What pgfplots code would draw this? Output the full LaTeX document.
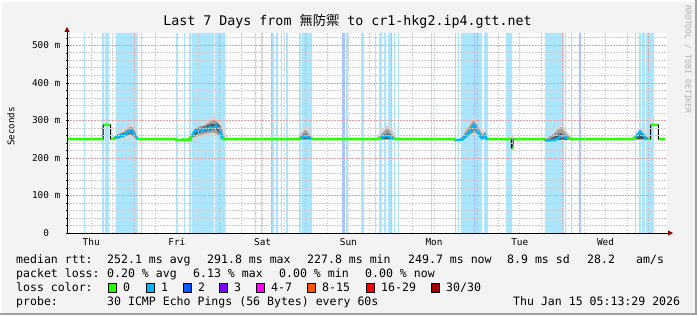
\documentclass[border=0pt]{standalone}
\usepackage{pgfplots}
\pgfplotsset{compat=1.18}
\usepackage{fontspec}
\setmainfont{DejaVu Sans Mono}
\newfontfamily\cjk{Noto Sans CJK TC}
\usetikzlibrary{arrows.meta}
\definecolor{bgc}{HTML}{F3F3F3}
\definecolor{framedark}{HTML}{A0A0A0}
\definecolor{majgrid}{HTML}{E3A0A0}
\definecolor{mingrid}{HTML}{CDCDCD}
\definecolor{arrowred}{HTML}{8B0000}
\definecolor{bandcyan}{HTML}{ABE6FE}
\definecolor{bandblue}{HTML}{ABC4FF}
\definecolor{smokeA}{HTML}{D8D8D8}
\definecolor{smokeB}{HTML}{A0A0A0}
\definecolor{smokeC}{HTML}{505050}
\definecolor{lc0}{HTML}{26FF00}
\definecolor{lc1}{HTML}{00B8FF}
\definecolor{lc2}{HTML}{0059FF}
\definecolor{lc3}{HTML}{7E00FF}
\definecolor{lc4}{HTML}{FF00FF}
\definecolor{lc8}{HTML}{FF5500}
\definecolor{lc16}{HTML}{FF0000}
\definecolor{lc30}{HTML}{A00000}
\newcommand\lf{\fontsize{11.55bp}{14bp}\selectfont}
\begin{document}
\begin{tikzpicture}[x=1bp,y=1bp]
\useasboundingbox (0,0) rectangle (697,315);
\fill[bgc] (0,0) rectangle (697,315);
\fill[white] (0,313) rectangle (697,315);
\fill[white] (0,0) rectangle (2,315);
\fill[framedark] (694.5,0) rectangle (697,315);
\fill[framedark] (0,0) rectangle (697,2.5);
\begin{axis}[
  at={(67bp,82bp)}, anchor=south west,
  scale only axis, width=600bp, height=200bp,
  xmin=0, xmax=168, ymin=0, ymax=533,
  axis lines=left,
  axis line style={line width=0.9bp, black},
  x axis line style={-{Triangle[width=5bp,length=5bp,color=arrowred]}, shorten >=-6bp},
  y axis line style={-{Triangle[width=5bp,length=5bp,color=arrowred]}, shorten >=-6bp},
  axis background/.style={fill=white},
  axis on top,
  xtick={6.775,30.775,54.775,78.775,102.775,126.775,150.775},
  xticklabels={Thu,Fri,Sat,Sun,Mon,Tue,Wed},
  minor xtick={0.775,6.775,12.775,24.775,30.775,36.775,48.775,54.775,60.775,72.775,78.775,84.775,96.775,102.775,108.775,120.775,126.775,132.775,144.775,150.775,156.775},
  extra x ticks={18.775,42.775,66.775,90.775,114.775,138.775,162.775},
  extra x tick labels={},
  extra x tick style={grid=major},
  ytick={0,100,200,300,400,500},
  yticklabels={0\hphantom{mm},100 m,200 m,300 m,400 m,500 m},
  minor ytick={20,40,60,80,120,140,160,180,220,240,260,280,320,340,360,380,420,440,460,480,520},
  ymajorgrids=true, yminorgrids=true, xminorgrids=true, xmajorgrids=false,
  major grid style={draw=majgrid, dash pattern=on 1.5bp off 1.5bp, line width=0.8bp},
  minor grid style={draw=mingrid, dash pattern=on 1.5bp off 1.5bp, line width=0.8bp},
  xtick style={draw=none},
  ytick style={draw=black, line width=0.6bp},
  major tick length=3bp, minor tick length=2bp,
  tick label style={font=\fontsize{9.4bp}{11bp}\selectfont},
  xticklabel style={anchor=north, inner sep=0pt, yshift=-4bp},
  yticklabel style={anchor=east, inner sep=0pt, xshift=-5bp},
  /pgf/number format/assume math mode=true,
  unbounded coords=jump,
]
% loss background bands
\addplot[const plot, fill=bandcyan, draw=none] coordinates {
(0,0)(4.76,533)(5.04,0)(9.80,533)(10.36,0)(10.64,533)(11.76,0)(13.64,533)(19.80,0)
(20.72,533)(21.00,0)(30.52,533)(31.00,0)(32.76,533)(33.04,0)(34.16,533)(34.72,0)
(35.00,533)(41.16,0)(41.44,533)(44.44,0)(52.64,533)(52.92,0)(54.32,533)(54.60,0)
(57.40,533)(57.96,0)(58.52,533)(59.08,0)(59.92,533)(60.20,0)(61.32,533)(61.88,0)
(64.96,533)(65.52,0)(65.80,533)(68.60,0)(78.12,533)(78.68,0)(82.32,533)(83.16,0)
(86.24,533)(86.52,0)(87.36,533)(88.20,0)(88.76,533)(89.32,0)(89.88,533)(91.00,0)
(91.56,533)(91.84,0)(92.68,533)(92.96,0)(101.92,533)(102.20,0)(108.64,533)(108.92,0)
(109.48,533)(109.76,0)(110.32,533)(116.20,0)(116.76,533)(117.88,0)(122.92,533)(124.60,0)
(133.84,533)(139.16,0)(139.44,533)(139.72,0)(141.12,533)(141.40,0)(159.04,533)(159.32,0)
(160.16,533)(160.72,0)(161.00,533)(161.84,0)(162.12,533)(164.36,0)(168,0)} \closedcycle;
\addplot[const plot, fill=bandblue, draw=none] coordinates {
(0,0)(57.12,533)(57.40,0)(77.00,533)(77.84,0)(113.96,533)(114.24,0)(143.36,533)(143.92,0)(168,0)} \closedcycle;
% smoke: faint patches
\addplot[fill=smokeA!60!white, draw=none] coordinates {(53.48,250)(55,254)(58,256)(61,255)(63.84,251)(63.84,249)(53.48,249)};
\addplot[fill=smokeA!60!white, draw=none] coordinates {(77.28,250)(79,255)(82,256)(85.4,252)(85.4,249)(77.28,249)};
\addplot[fill=smokeA, draw=none] coordinates {(122.36,250)(123.48,258)(124.32,262)(125.16,255)(125.72,250)(125.72,249)(122.36,249)};
% bump 2
\addplot[fill=smokeA, draw=none] coordinates {(12.6,250)(13.44,260)(14.28,268)(15.12,272)(15.96,278)(16.8,286)(17.64,293)(18.48,290)(19.04,280)(19.6,265)(20.16,250)(20.16,248)(17.64,252)(14.84,247)(12.6,248)};
\addplot[fill=smokeB, draw=none] coordinates {(13.16,252)(14.0,262)(15.12,266)(15.96,270)(16.8,277)(17.64,283)(18.48,280)(19.04,272)(19.6,258)(19.88,250)(19.88,249)(17.64,262)(15.12,254)(13.16,249)};
\addplot[fill=smokeC, draw=none] coordinates {(13.44,254)(14.28,260)(15.12,264)(16.24,267)(17.08,272)(17.92,276)(18.76,270)(19.32,260)(19.6,252)(19.6,250)(17.92,266)(16.24,259)(13.44,251)};
% bump 3
\addplot[fill=smokeA, draw=none] coordinates {(33.32,250)(34.44,260)(35.56,275)(36.68,285)(37.8,290)(38.92,295)(40.04,305)(40.88,317)(41.72,310)(42.56,302)(43.4,290)(44.24,270)(45.08,252)(45.08,249)(41.44,262)(38.64,258)(35.84,250)(33.32,248)};
\addplot[fill=smokeB, draw=none] coordinates {(33.88,252)(35.0,265)(36.12,280)(37.24,284)(38.36,287)(39.48,293)(40.6,300)(41.44,302)(42.28,294)(43.12,284)(43.68,265)(44.24,252)(44.24,250)(41.16,268)(38.36,264)(35.56,255)(33.88,249)};
\addplot[fill=smokeC, draw=none] coordinates {(34.44,254)(35.56,272)(36.68,278)(37.8,280)(38.92,285)(40.04,290)(41.16,290)(42.0,292)(42.84,285)(43.4,262)(43.68,252)(43.68,250)(41.72,278)(40.04,273)(37.24,268)(35.56,260)(34.44,250)};
% bump 4
\addplot[fill=smokeA, draw=none] coordinates {(63.84,250)(64.96,258)(65.8,272)(66.64,288)(67.48,278)(68.32,262)(69.44,250)(69.44,249)(63.84,249)};
\addplot[fill=smokeB, draw=none] coordinates {(64.68,252)(65.52,262)(66.64,275)(67.48,268)(68.32,256)(68.88,250)(68.88,249)(64.68,249)};
\addplot[fill=smokeC, draw=none] coordinates {(65.24,252)(66.08,260)(66.64,264)(67.48,260)(68.32,253)(68.32,250)(65.24,250)};
% bump 5
\addplot[fill=smokeA, draw=none] coordinates {(85.96,250)(87.08,260)(88.2,272)(89.32,288)(90.16,290)(91.0,276)(91.84,262)(92.68,250)(92.68,249)(85.96,249)};
\addplot[fill=smokeB, draw=none] coordinates {(86.8,252)(87.92,262)(89.04,274)(89.88,278)(90.72,268)(91.56,256)(92.12,250)(92.12,249)(86.8,249)};
\addplot[fill=smokeC, draw=none] coordinates {(87.36,252)(88.48,258)(89.32,264)(90.16,265)(91.0,257)(91.56,251)(91.56,250)(87.36,250)};
% bump 6
\addplot[fill=smokeA, draw=none] coordinates {(109.2,248)(110.32,255)(111.16,268)(112.0,280)(112.84,295)(113.68,310)(114.52,300)(115.36,285)(116.2,272)(117.04,275)(117.6,265)(118.44,250)(118.44,248)(113.68,262)(109.2,246)};
\addplot[fill=smokeB, draw=none] coordinates {(110.04,250)(110.88,260)(111.72,272)(112.56,283)(113.4,295)(113.96,300)(114.8,288)(115.64,272)(116.48,262)(117.04,268)(117.6,256)(117.88,250)(117.88,249)(113.96,268)(110.04,248)};
\addplot[fill=smokeC, draw=none] coordinates {(110.6,252)(111.44,260)(112.28,268)(112.84,276)(113.4,285)(113.96,292)(114.52,285)(115.08,273)(115.64,262)(116.2,256)(117.04,264)(117.32,256)(117.6,250)(117.6,249)(114.52,272)(113.96,280)(113.4,270)(110.6,249)};
% bump 7
\addplot[fill=smokeA, draw=none] coordinates {(133.28,250)(134.68,256)(135.8,265)(136.92,275)(138.04,293)(139.16,282)(140.28,268)(141.4,256)(142.52,250)(142.52,249)(133.28,246)};
\addplot[fill=smokeB, draw=none] coordinates {(134.12,250)(135.24,258)(136.36,265)(137.48,275)(138.32,282)(139.16,272)(140.28,260)(141.4,251)(141.4,249)(134.12,247)};
\addplot[fill=smokeC, draw=none] coordinates {(135.24,251)(136.36,256)(137.48,262)(138.32,266)(139.16,260)(140.0,254)(140.84,250)(140.84,249)(135.24,248)};
% bump 8
\addplot[fill=smokeA, draw=none] coordinates {(157.64,250)(158.76,260)(159.6,270)(160.44,283)(161.28,276)(162.12,265)(162.96,256)(163.8,250)(163.8,249)(157.64,249)};
\addplot[fill=smokeB, draw=none] coordinates {(158.2,251)(159.04,260)(159.88,268)(160.44,275)(161.28,268)(162.12,258)(162.96,252)(162.96,249)(158.2,249)};
\addplot[fill=smokeC, draw=none] coordinates {(158.76,253)(159.6,262)(160.44,272)(161.28,264)(161.84,257)(162.68,252)(162.68,250)(158.76,250)};
% median, thin black (full)
\addplot[black, line width=1bp] coordinates {
(0.1,250)(10.1,250)(10.15,288)(12.2,288)(12.25,250)(12.88,250)(13.44,254)(14.0,258)(14.56,255)(15.12,262)(15.68,258)(16.24,263)(16.8,266)(17.36,270)(17.92,273)(18.48,268)(19.04,260)(19.6,252)(19.88,250)
(30.5,250)(30.6,248)(34.44,249)(35.0,258)(35.56,268)(36.12,275)(36.68,270)(37.24,278)(37.8,272)(38.36,276)(38.92,280)(39.48,275)(40.04,283)(40.6,278)(41.16,282)(41.72,286)(42.28,280)(42.84,278)(43.4,252)(43.68,250)
(64.68,250)(65.52,253)(66.36,256)(66.92,258)(67.48,254)(68.32,251)(68.88,250)
(86.8,250)(87.92,253)(88.76,257)(89.6,259)(90.44,255)(91.28,252)(92.12,250)
(108.6,250)(108.64,247)(110.6,249)(111.44,255)(112.28,263)(112.84,270)(113.4,278)(113.96,288)(114.52,280)(115.08,268)(115.64,258)(116.2,252)(116.76,255)(117.04,261)(117.32,252)(117.88,250)
(124.4,250)(124.45,226)(124.85,226)(124.9,250)
(133.8,250)(133.84,247)(135.24,247)(136.64,248)(137.48,252)(138.04,256)(138.6,258)(139.44,255)(140.28,252)(141.4,250)
(158.48,250)(159.32,255)(159.88,262)(160.44,270)(161.0,265)(161.56,258)(162.12,253)(162.68,251)(163.24,250)
(163.4,250)(163.45,288)(165.55,288)(165.6,250)(167.4,250)};
% median, loss 0 (green)
\addplot[lc0, line width=2.6bp] coordinates {
(0.1,250)(10.1,250)(10.1,nan)
(10.25,288)(12.1,288)(12.1,nan)
(12.3,250)(12.88,250)(13.44,254)(13.44,nan)
(19.6,252)(19.88,250)(30.5,250)(30.6,248)(34.44,249)(35.0,258)(35.0,nan)
(43.4,252)(43.68,250)(64.68,250)(65.52,253)(65.52,nan)
(68.32,251)(68.88,250)(86.8,250)(87.92,253)(87.92,nan)
(91.28,252)(92.12,250)(108.6,250)(108.64,247)(108.64,nan)
(117.88,250)(124.35,250)(124.35,nan)
(124.5,226)(124.85,226)(124.85,nan)
(124.95,250)(133.8,250)(133.84,247)(133.84,nan)
(140.28,252)(141.4,250)(158.48,250)(159.32,255)(159.32,nan)
(162.68,251)(163.24,250)(163.35,250)(163.35,nan)
(163.55,288)(165.45,288)(165.45,nan)
(165.7,250)(167.4,250)};
% median, loss 1 (cyan)
\addplot[lc1, line width=2.4bp] coordinates {
(13.44,254)(14.0,258)(14.56,255)(15.12,262)(15.68,258)(16.24,263)(16.8,266)(17.36,270)(17.92,273)(18.48,268)(19.04,260)(19.6,252)(19.6,nan)
(35.0,258)(35.56,268)(36.12,275)(36.68,270)(37.24,278)(37.8,272)(38.36,276)(38.92,280)(39.48,275)(40.04,283)(40.6,278)(41.16,282)(41.72,286)(42.28,280)(42.84,278)(43.4,252)(43.4,nan)
(65.52,253)(66.36,256)(66.92,258)(67.48,254)(68.32,251)(68.32,nan)
(87.92,253)(88.76,257)(89.6,259)(90.44,255)(91.28,252)(91.28,nan)
(108.64,247)(110.6,249)(111.44,255)(112.28,263)(112.84,270)(113.4,278)(113.96,288)(114.52,280)(115.08,268)(115.64,258)(116.2,252)(116.76,255)(117.04,261)(117.32,252)(117.88,250)(117.88,nan)
(133.84,247)(135.24,247)(136.64,248)(137.48,252)(138.04,256)(138.6,258)(139.44,255)(140.28,252)(140.28,nan)
(159.32,255)(159.88,262)(160.44,270)(161.0,265)(161.56,258)(162.12,253)(162.68,251)};
\end{axis}
% title
\node[anchor=base, inner sep=0pt] at (347.5,290) {\fontsize{13.3bp}{16bp}\selectfont Last 7 Days from {\cjk 無防禦} to cr1-hkg2.ip4.gtt.net};
% y label
\node[rotate=90, inner sep=0pt] at (11,188.5) {\fontsize{9.2bp}{11bp}\selectfont Seconds};
% watermark
\node[rotate=-90, anchor=west, inner sep=0pt, text={rgb,255:red,178;green,178;blue,178}] at (688,310) {\fontsize{8.2bp}{10bp}\selectfont RRDTOOL / TOBI OETIKER};
% legend rows
\begin{scope}[every node/.style={anchor=base west, inner sep=0pt, font=\lf}]
\node at (16,52) {median rtt:};
\node at (107,52) {252.1 ms avg};
\node at (207,52) {291.8 ms max};
\node at (307,52) {227.8 ms min};
\node at (408,52) {249.7 ms now};
\node at (507,52) {8.9 ms sd};
\node at (587,52) {28.2};
\node at (636,52) {am/s};
\node at (16,38) {packet loss:};
\node at (107,38) {0.20 \% avg};
\node at (193,38) {6.13 \% max};
\node at (279,38) {0.00 \% min};
\node at (365,38) {0.00 \% now};
\node at (16,24) {loss color:};
\node at (123,24) {0};
\node at (161,24) {1};
\node at (198,24) {2};
\node at (234,24) {3};
\node at (271,24) {4-7};
\node at (322,24) {8-15};
\node at (381,24) {16-29};
\node at (446,24) {30/30};
\node at (16,10) {probe:};
\node at (107,10) {30 ICMP Echo Pings (56 Bytes) every 60s};
\node at (513,10) {Thu Jan 15 05:13:29 2026};
\end{scope}
\begin{scope}[line width=0.8bp, draw=black]
\filldraw[fill=lc0] (108.5,23) rectangle ++(8,9);
\filldraw[fill=lc1] (146,23) rectangle ++(8,9);
\filldraw[fill=lc2] (183,23) rectangle ++(8,9);
\filldraw[fill=lc3] (219.5,23) rectangle ++(8,9);
\filldraw[fill=lc4] (256.5,23) rectangle ++(8,9);
\filldraw[fill=lc8] (307.5,23) rectangle ++(8,9);
\filldraw[fill=lc16] (366,23) rectangle ++(8,9);
\filldraw[fill=lc30] (431,23) rectangle ++(8,9);
\end{scope}
\end{tikzpicture}
\end{document}
